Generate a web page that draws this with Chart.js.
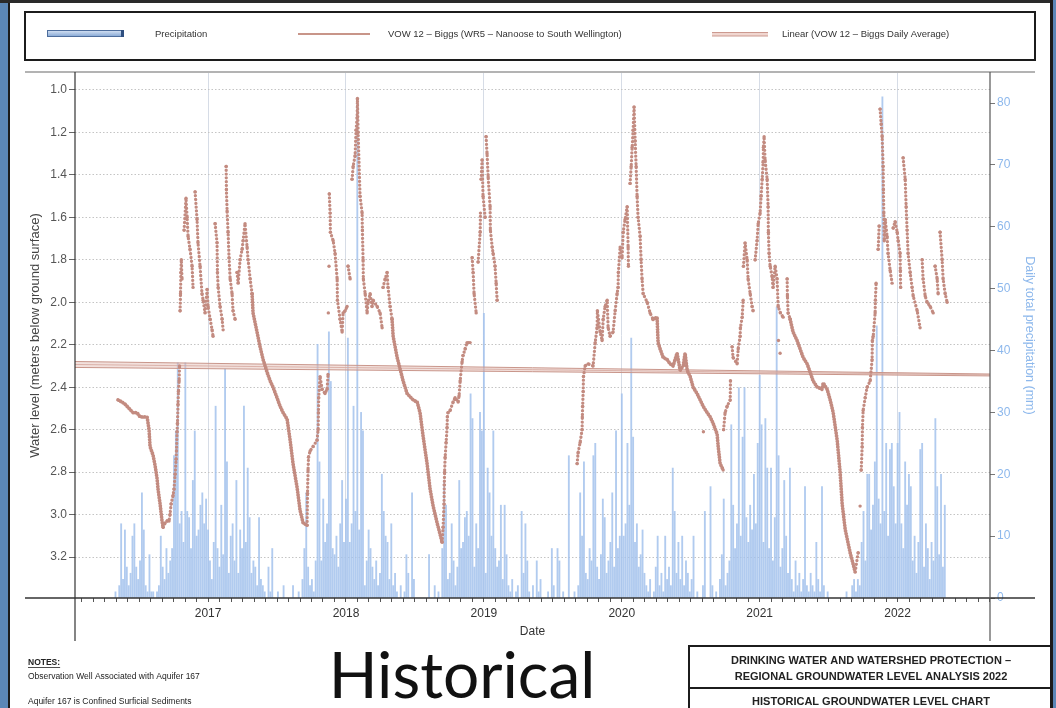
<!DOCTYPE html>
<html>
<head>
<meta charset="utf-8">
<script src="https://cdn.jsdelivr.net/npm/chart.js@4.4.1/dist/chart.umd.min.js"></script>
<style>
  html, body { margin: 0; padding: 0; background: #fff; }
  #wrap { position: relative; width: 1056px; height: 708px; overflow: hidden; }
  canvas { position: absolute; left: 0; top: 0; }
</style>
</head>
<body>
<div id="wrap"><canvas id="chart" width="1056" height="708"></canvas></div>
<script>
// axis ticks
const yearTicks = [2017, 2018, 2019, 2020, 2021, 2022];
const levelTicks = [1.0, 1.2, 1.4, 1.6, 1.8, 2.0, 2.2, 2.4, 2.6, 2.8, 3.0, 3.2];
const precipTicks = [0, 10, 20, 30, 40, 50, 60, 70, 80];

// linear trend (three thin strokes converging to the right)
const trendYears = [2016.035, 2022.67];
const trendUpper = [2.279, 2.338];
const trendMiddle = [2.293, 2.342];
const trendLower = [2.307, 2.347];

// daily precipitation, one value every 5 days from 1 Jan of each year (mm)
const precip2016 = [0,0,0,0,0,0,0,0,0,0,0,0,0,0,0,0,0,0,0,0,0,0,0,0,
  1,0,2,12,3,11,5,2,4,10,12,5,3,6,17,11,2,1,7,1,1,0,1,2,10,5,3,8,4,6,8,23,27,38,12,14,9,38,14,13,8,19,27,10,11,15,17,12,16];
const precip2017 = [11,6,3,9,31,8,5,15,7,37,22,4,10,12,6,19,4,11,8,31,9,21,13,4,6,5,2,13,3,2,
  1,0,5,1,8,0,0,1,0,0,2,0,0,0,0,2,0,0,1,0,3,8,17,5,2,3,1,6,41,22,6,16,9,12,43,35,8,7,10,5,12,19,9];
const precip2018 = [16,42,9,12,31,14,80,11,30,27,2,6,11,8,5,3,6,2,4,20,14,10,9,3,12,2,4,1,0,2,
  0,1,7,4,0,17,3,0,0,0,0,0,0,0,7,0,0,2,0,1,0,8,19,15,3,4,12,6,2,5,19,8,9,13,14,10,33,29,5,12,8,30,27];
const precip2019 = [46,4,21,17,10,27,8,5,6,15,3,15,7,2,1,3,0,1,2,0,14,4,12,6,1,0,2,0,6,1,
  3,0,0,0,1,0,8,2,0,8,6,0,1,0,0,23,0,0,1,0,2,17,10,22,4,3,8,6,23,25,5,3,7,16,13,4,6,9,17,5,27,8,10];
const precip2020 = [33,10,12,25,15,42,26,9,12,5,7,11,4,2,1,3,0,1,5,10,2,4,1,10,3,5,2,21,14,4,
  9,3,10,2,6,4,1,3,10,0,1,0,0,2,14,0,0,18,2,0,1,0,3,7,16,2,4,6,28,15,8,12,34,10,26,34,13,9,15,11,20,12,25];
const precip2021 = [36,28,9,29,21,8,21,6,13,47,23,5,8,19,10,4,21,3,1,6,2,4,1,3,18,2,1,4,2,1,
  9,3,1,18,2,0,1,0,0,0,0,0,0,0,0,0,1,0,0,2,3,1,3,2,9,14,6,20,20,11,15,22,44,16,12,81,14,25,10,24,25,18,12];
const precip2022 = [25,30,12,8,22,15,20,18,6,10,4,9,24,25,5,12,8,3,9,6,29,18,7,20,5,15];

// water level [decimal year, metres below ground]
const levelDecline2016 = [[2016.347,2.46],[2016.376,2.47],[2016.398,2.48],[2016.427,2.50],[2016.456,2.52],[2016.485,2.52],
  [2016.507,2.54],[2016.536,2.54],[2016.558,2.54],[2016.572,2.60],[2016.579,2.68],[2016.601,2.72],[2016.616,2.77],
  [2016.630,2.83],[2016.637,2.88],[2016.652,2.95],[2016.666,3.03],[2016.674,3.06]];
const levelWinter2016 = [[2016.674,3.06],[2016.688,3.04],[2016.703,3.03],[2016.717,3.03],[2016.724,3.00],[2016.732,2.95],
  [2016.746,2.91],[2016.753,2.88],[2016.761,2.81],[2016.768,2.74],[2016.771,2.70],[2016.775,2.61],[2016.778,2.57],
  [2016.782,2.48],[2016.785,2.42],[2016.790,2.37],[2016.793,2.30],[2016.797,2.04],[2016.800,1.96],[2016.803,1.86],
  [2016.806,1.80],[2016.811,1.89],[2016.826,1.66],[2016.840,1.51],[2016.848,1.60],[2016.855,1.69],[2016.869,1.75],
  [2016.884,1.83],[2016.891,1.93],[2016.906,1.48],[2016.920,1.61],[2016.927,1.72],[2016.942,1.83],[2016.956,1.96],
  [2016.964,1.99],[2016.978,2.05],[2016.993,1.94],[2017.000,2.02],[2017.015,2.08],[2017.029,2.13],[2017.036,2.16],
  [2017.051,1.63],[2017.065,1.72],[2017.068,1.86],[2017.073,1.93],[2017.087,2.02],[2017.102,2.08],[2017.109,2.13],
  [2017.131,1.36],[2017.133,1.47],[2017.138,1.57],[2017.145,1.67],[2017.152,1.79],[2017.160,1.89],[2017.174,1.96],
  [2017.181,2.04],[2017.196,2.08],[2017.210,1.86],[2017.218,1.91],[2017.232,1.80],[2017.247,1.75],[2017.254,1.71],
  [2017.268,1.63],[2017.283,1.74],[2017.290,1.80],[2017.305,1.89],[2017.319,1.96]];
const levelDecline2017 = [[2017.319,1.96],[2017.326,2.05],[2017.355,2.14],[2017.377,2.21],[2017.399,2.27],[2017.428,2.33],
  [2017.450,2.37],[2017.471,2.40],[2017.500,2.45],[2017.522,2.49],[2017.544,2.52],[2017.573,2.55],[2017.595,2.65],
  [2017.616,2.76],[2017.645,2.87],[2017.667,2.98],[2017.689,3.04],[2017.718,3.05]];
const levelWinter2017 = [[2017.718,3.05],[2017.721,2.90],[2017.725,2.79],[2017.728,2.73],[2017.740,2.70],[2017.761,2.68],
  [2017.790,2.65],[2017.798,2.60],[2017.800,2.52],[2017.802,2.45],[2017.812,2.35],[2017.827,2.41],[2017.848,2.43],
  [2017.863,2.41],[2017.870,2.34],[2017.872,2.05],[2017.877,1.83],[2017.879,1.49],[2017.885,1.58],[2017.887,1.67],
  [2017.907,1.71],[2017.921,1.77],[2017.936,1.89],[2017.938,1.99],[2017.957,2.08],[2017.972,2.14],[2017.979,2.05],
  [2017.994,2.04],[2018.008,2.02],[2018.015,1.83],[2018.030,1.89],[2018.044,1.42],[2018.052,1.36],[2018.066,1.31],
  [2018.073,1.19],[2018.081,1.13],[2018.083,1.04],[2018.088,1.20],[2018.102,1.50],[2018.117,1.58],[2018.119,1.66],
  [2018.124,1.80],[2018.126,1.89],[2018.139,1.96],[2018.153,2.05],[2018.160,2.00],[2018.175,1.96],[2018.189,2.02],
  [2018.197,1.99],[2018.226,2.02],[2018.247,2.05],[2018.262,2.12],[2018.269,1.93],[2018.284,1.89],[2018.298,1.86],
  [2018.305,1.93],[2018.320,2.02],[2018.334,2.08]];
const levelDecline2018 = [[2018.334,2.08],[2018.342,2.16],[2018.371,2.26],[2018.414,2.37],[2018.443,2.43],[2018.487,2.46],
  [2018.516,2.47],[2018.537,2.52],[2018.559,2.63],[2018.588,2.76],[2018.610,2.88],[2018.632,2.96],[2018.661,3.04],
  [2018.697,3.13]];
const levelWinter2018 = [[2018.697,3.13],[2018.704,3.06],[2018.711,2.95],[2018.713,2.86],[2018.715,2.80],[2018.719,2.73],
  [2018.726,2.66],[2018.733,2.59],[2018.735,2.54],[2018.740,2.52],[2018.755,2.51],[2018.777,2.47],[2018.791,2.45],
  [2018.813,2.47],[2018.820,2.44],[2018.828,2.37],[2018.842,2.28],[2018.849,2.25],[2018.864,2.22],[2018.878,2.19],
  [2018.900,2.19],[2018.915,1.79],[2018.922,1.86],[2018.929,1.96],[2018.944,2.05],[2018.958,1.81],[2018.973,1.67],
  [2018.975,1.58],[2018.980,1.42],[2018.987,1.33],[2018.994,1.50],[2019.009,1.60],[2019.016,1.22],[2019.023,1.30],
  [2019.031,1.41],[2019.045,1.55],[2019.047,1.66],[2019.060,1.74],[2019.067,1.77],[2019.081,1.83],[2019.089,1.91],
  [2019.096,1.99]];
const levelWinter2019 = [[2019.676,2.76],[2019.683,2.71],[2019.698,2.66],[2019.712,2.60],[2019.714,2.54],[2019.716,2.49],
  [2019.720,2.42],[2019.722,2.35],[2019.734,2.30],[2019.756,2.29],[2019.792,2.30],[2019.807,2.19],[2019.821,2.12],
  [2019.823,2.04],[2019.843,2.14],[2019.857,2.18],[2019.865,2.08],[2019.879,2.02],[2019.894,1.99],[2019.901,2.12],
  [2019.915,2.16],[2019.937,2.14],[2019.952,2.04],[2019.966,1.96],[2019.973,1.93],[2019.975,1.86],[2019.988,1.74],
  [2020.002,1.79],[2020.010,1.67],[2020.024,1.61],[2020.039,1.55],[2020.046,1.74],[2020.048,1.83],[2020.060,1.44],
  [2020.068,1.36],[2020.075,1.27],[2020.082,1.19],[2020.089,1.08],[2020.097,1.24],[2020.104,1.36],[2020.111,1.50],
  [2020.118,1.60],[2020.133,1.69],[2020.140,1.80],[2020.147,1.89],[2020.155,1.96],[2020.184,2.00],[2020.205,2.05],
  [2020.227,2.08]];
const levelDecline2020 = [[2020.227,2.08],[2020.256,2.07],[2020.263,2.19],[2020.278,2.22],[2020.300,2.26],[2020.329,2.27],
  [2020.350,2.29],[2020.372,2.30],[2020.401,2.24],[2020.423,2.32],[2020.445,2.30],[2020.459,2.24],[2020.474,2.32],
  [2020.496,2.35],[2020.517,2.40],[2020.546,2.43],[2020.568,2.46],[2020.590,2.49],[2020.619,2.52],[2020.641,2.54],
  [2020.662,2.57],[2020.691,2.62],[2020.699,2.68],[2020.713,2.76],[2020.728,2.78],[2020.735,2.79]];
const levelWinter2020 = [[2020.735,2.79],[2020.738,2.60],[2020.749,2.52],[2020.764,2.49],[2020.786,2.46],[2020.788,2.37],
  [2020.800,2.21],[2020.807,2.26],[2020.836,2.29],[2020.844,2.22],[2020.858,2.16],[2020.860,2.12],[2020.873,2.07],
  [2020.880,1.99],[2020.882,1.83],[2020.894,1.72],[2020.909,1.80],[2020.916,1.89],[2020.931,1.96],[2020.945,2.02],
  [2020.952,2.04],[2020.967,1.80],[2020.981,1.71],[2020.989,1.63],[2021.003,1.58],[2021.010,1.50],[2021.018,1.42],
  [2021.025,1.34],[2021.027,1.27],[2021.032,1.22],[2021.039,1.33],[2021.054,1.42],[2021.061,1.55],[2021.063,1.67],
  [2021.068,1.77],[2021.076,1.83],[2021.090,1.88],[2021.097,1.93],[2021.112,1.83],[2021.126,1.89],[2021.134,2.02],
  [2021.150,2.05],[2021.170,2.07],[2021.199,1.89],[2021.201,1.97],[2021.206,2.05],[2021.221,2.08]];
const levelDecline2021 = [[2021.221,2.08],[2021.242,2.14],[2021.271,2.18],[2021.293,2.22],[2021.315,2.26],[2021.344,2.29],
  [2021.366,2.33],[2021.387,2.37],[2021.417,2.40],[2021.453,2.41],[2021.460,2.38],[2021.489,2.41],[2021.511,2.46],
  [2021.533,2.52],[2021.562,2.65],[2021.583,2.80],[2021.598,2.95],[2021.620,3.07],[2021.656,3.18],[2021.692,3.27]];
const levelWinter2021 = [[2021.692,3.27],[2021.714,3.18],[2021.728,2.96],[2021.736,2.79],[2021.743,2.68],[2021.745,2.59],
  [2021.750,2.51],[2021.765,2.45],[2021.779,2.40],[2021.801,2.37],[2021.815,2.27],[2021.817,2.18],[2021.823,2.16],
  [2021.837,2.05],[2021.839,1.99],[2021.844,1.91],[2021.859,1.75],[2021.866,1.64],[2021.873,1.09],[2021.881,1.16],
  [2021.888,1.22],[2021.895,1.36],[2021.897,1.47],[2021.900,1.58],[2021.903,1.71],[2021.910,1.61],[2021.924,1.69],
  [2021.931,1.77],[2021.946,1.85],[2021.960,1.91],[2021.968,1.65],[2021.982,1.62],[2021.997,1.67],[2022.004,1.71],
  [2022.018,1.77],[2022.020,1.85],[2022.022,1.93],[2022.040,1.32],[2022.055,1.42],[2022.062,1.55],[2022.069,1.66],
  [2022.076,1.77],[2022.091,1.86],[2022.105,1.93],[2022.113,1.97],[2022.142,2.04],[2022.163,2.12],[2022.178,1.80],
  [2022.185,1.89],[2022.200,1.97],[2022.214,2.00],[2022.236,2.02],[2022.258,2.05],[2022.272,1.83],[2022.287,1.89],
  [2022.294,1.96],[2022.308,1.67],[2022.323,1.80],[2022.330,1.89],[2022.345,1.96],[2022.359,2.00]];
const levelOutliers = [[2020.592,2.61],[2021.136,2.18],[2021.148,2.24]];

const DOT = '#c38b80';
const BAR = 'rgba(163,194,236,0.85)';
const FONT = '"Liberation Sans", Arial, sans-serif';

Chart.defaults.font.family = FONT;

function precipPoints(year, values) {
  return values.map((v, i) => ({ x: year + i * 5 / 365.25, y: v })).filter(p => p.y > 0);
}
const toXY = arr => arr.map(([x, y]) => ({ x, y }));

const precipData = [].concat(
  precipPoints(2016, precip2016), precipPoints(2017, precip2017), precipPoints(2018, precip2018),
  precipPoints(2019, precip2019), precipPoints(2020, precip2020), precipPoints(2021, precip2021),
  precipPoints(2022, precip2022));

// rising jumps after rain show as gaps, not chains of dots
const hideJump = c => (c.p0.parsed.y - c.p1.parsed.y > 0.15 ? 'rgba(0,0,0,0)' : undefined);

function declineSet(arr) {
  return { type: 'line', data: toXY(arr), yAxisID: 'y', borderColor: DOT, borderWidth: 3.8,
    borderDash: [0.01, 2.8], borderCapStyle: 'round', borderJoinStyle: 'round', pointRadius: 0, tension: 0, order: 1 };
}
function winterSet(arr) {
  return { type: 'line', data: toXY(arr), yAxisID: 'y', borderColor: DOT, borderWidth: 3.3,
    borderDash: [0.01, 3.8], borderCapStyle: 'round', pointRadius: 1.7, pointBackgroundColor: DOT,
    pointBorderWidth: 0, tension: 0, order: 1, segment: { borderColor: hideJump } };
}
function trendSet(vals, extra) {
  return Object.assign({ type: 'line', data: trendYears.map((x, i) => ({ x, y: vals[i] })), yAxisID: 'y',
    borderColor: '#c9968b', borderWidth: 1, pointRadius: 0, order: 2 }, extra || {});
}

const monthTicks = [];
for (let y = 2016; y <= 2022; y++) {
  for (let m = 0; m < 12; m++) {
    const v = y + m / 12;
    if (v >= trendYears[0] && v <= trendYears[1]) monthTicks.push(v);
  }
}
const isYear = v => Math.abs(v - Math.round(v)) < 1e-6;

const line = (ctx, x1, y1, x2, y2) => { ctx.beginPath(); ctx.moveTo(x1, y1); ctx.lineTo(x2, y2); ctx.stroke(); };

const pageDecor = {
  id: 'pageDecor',
  afterDraw(chart) {
    const { ctx, chartArea: a } = chart;
    ctx.save();
    // frame around the plot
    ctx.strokeStyle = '#9a9a9a'; ctx.lineWidth = 1.5;
    line(ctx, 25, 72, 1035, 72);
    ctx.strokeStyle = '#333'; ctx.lineWidth = 1.5;
    line(ctx, 25, a.bottom, 1035, a.bottom);
    ctx.lineWidth = 1.2;
    line(ctx, a.left, 72, a.left, 641);
    ctx.strokeStyle = '#555';
    line(ctx, a.right, 72, a.right, 641);

    // legend box
    ctx.strokeStyle = '#1c1c1c'; ctx.lineWidth = 2;
    ctx.strokeRect(25, 12, 1010, 48);
    const g = ctx.createLinearGradient(0, 30, 0, 37);
    g.addColorStop(0, '#dce7f6'); g.addColorStop(1, '#7ea2d2');
    ctx.fillStyle = g; ctx.fillRect(47, 30.5, 76, 6);
    ctx.strokeStyle = '#4d6d9c'; ctx.lineWidth = 1; ctx.strokeRect(47.5, 30.5, 75, 6);
    ctx.fillStyle = '#2f4f80'; ctx.fillRect(121, 30, 3, 7);
    ctx.fillStyle = '#c89589'; ctx.fillRect(298, 33, 72, 2);
    ctx.fillStyle = '#f0d6d0'; ctx.fillRect(712, 32, 56, 4);
    ctx.fillStyle = '#cc998f'; ctx.fillRect(712, 32, 56, 1); ctx.fillRect(712, 35.5, 56, 1);
    ctx.fillStyle = '#333'; ctx.textBaseline = 'middle'; ctx.textAlign = 'left';
    ctx.font = '9.5px ' + FONT;
    ctx.fillText('Precipitation', 155, 34);
    ctx.fillText('VOW 12 \u2013 Biggs (WR5 \u2013 Nanoose to South Wellington)', 388, 34);
    ctx.fillText('Linear (VOW 12 \u2013 Biggs Daily Average)', 782, 34);

    // notes
    ctx.fillStyle = '#222';
    ctx.font = 'bold 8.5px ' + FONT;
    ctx.fillText('NOTES:', 28, 663);
    const nw = ctx.measureText('NOTES:').width;
    ctx.fillRect(28, 667, nw, 0.8);
    ctx.font = '8.5px ' + FONT;
    ctx.fillText('Observation Well Associated with Aquifer 167', 28, 677);
    ctx.fillText('Aquifer 167 is Confined Surficial Sediments', 28, 702);

    // big caption
    ctx.fillStyle = '#111'; ctx.textAlign = 'center'; ctx.textBaseline = 'alphabetic';
    ctx.font = '64px Lato, "Open Sans", sans-serif';
    ctx.fillText('Historical', 462, 698);

    // title block
    ctx.strokeStyle = '#1c1c1c'; ctx.lineWidth = 2;
    ctx.strokeRect(689, 646, 380, 90);
    line(ctx, 689, 688, 1050, 688);
    ctx.fillStyle = '#222'; ctx.textBaseline = 'middle';
    ctx.font = 'bold 11px ' + FONT;
    ctx.fillText('DRINKING WATER AND WATERSHED PROTECTION \u2013', 871, 661);
    ctx.fillText('REGIONAL GROUNDWATER LEVEL ANALYSIS 2022', 871, 677);
    ctx.fillText('HISTORICAL GROUNDWATER LEVEL CHART', 871, 702);

    // page edges
    ctx.fillStyle = '#5b87b7'; ctx.fillRect(0, 0, 8, 708);
    ctx.fillStyle = '#1b1b1b'; ctx.fillRect(8, 0, 2, 708);
    ctx.fillStyle = '#2a2a2a'; ctx.fillRect(0, 0, 1056, 3);
    ctx.fillStyle = '#1b1b1b'; ctx.fillRect(1050, 0, 3, 708);
    ctx.fillStyle = '#5b87b7'; ctx.fillRect(1053, 0, 3, 708);
    ctx.restore();
  }
};

new Chart(document.getElementById('chart'), {
  type: 'scatter',
  data: {
    datasets: [
      { type: 'bar', label: 'Precipitation', data: precipData, xAxisID: 'x', yAxisID: 'y2',
        backgroundColor: BAR, barThickness: 1.2, grouped: false, order: 5 },
      trendSet(trendUpper),
      trendSet(trendLower, { fill: '-1', backgroundColor: 'rgba(226,186,178,0.45)' }),
      trendSet(trendMiddle, { borderWidth: 0.8 }),
      declineSet(levelDecline2016), winterSet(levelWinter2016),
      declineSet(levelDecline2017), winterSet(levelWinter2017),
      declineSet(levelDecline2018), winterSet(levelWinter2018),
      winterSet(levelWinter2019),
      declineSet(levelDecline2020), winterSet(levelWinter2020),
      declineSet(levelDecline2021), winterSet(levelWinter2021),
      { type: 'scatter', data: toXY(levelOutliers), yAxisID: 'y', pointRadius: 1.7,
        pointBackgroundColor: DOT, pointBorderWidth: 0, order: 1 }
    ]
  },
  options: {
    responsive: false,
    animation: false,
    events: [],
    layout: { padding: { left: 24, right: 15, top: 73, bottom: 65 } },
    plugins: { legend: { display: false }, tooltip: { enabled: false } },
    scales: {
      x: {
        type: 'linear', position: 'bottom', min: trendYears[0], max: trendYears[1], offset: false,
        afterBuildTicks: s => { s.ticks = monthTicks.map(v => ({ value: v })); },
        afterFit: s => { s.height = 45; },
        ticks: { autoSkip: false, maxRotation: 0, color: '#333', font: { size: 12 }, padding: 4,
          callback: v => (isYear(v) && yearTicks.includes(Math.round(v)) ? String(Math.round(v)) : '') },
        grid: { offset: false, color: c => (c.tick && isYear(c.tick.value) ? '#d6dce6' : 'rgba(0,0,0,0)'),
          tickColor: '#555', tickLength: 4 },
        border: { display: false },
        title: { display: true, text: 'Date', color: '#333', font: { size: 12 } }
      },
      y: {
        position: 'left', reverse: true, min: 0.92, max: 3.393,
        afterBuildTicks: s => { s.ticks = levelTicks.map(v => ({ value: v })); },
        afterFit: s => { s.width = 51; },
        ticks: { color: '#555', font: { size: 12 }, padding: 2, callback: v => v.toFixed(1) },
        grid: { color: '#c4c4c4', tickColor: '#666', tickLength: 6 },
        border: { display: false, dash: [1.5, 2] },
        title: { display: true, text: 'Water level (meters below ground surface)', color: '#444', font: { size: 13 } }
      },
      y2: {
        position: 'right', min: 0, max: 84.85,
        afterBuildTicks: s => { s.ticks = precipTicks.map(v => ({ value: v })); },
        afterFit: s => { s.width = 51; },
        ticks: { color: '#8db8ec', font: { size: 12 }, padding: 2 },
        grid: { drawOnChartArea: false, tickColor: '#777', tickLength: 5 },
        border: { display: false },
        title: { display: true, text: 'Daily total precipitation (mm)', color: '#8db8ec', font: { size: 12.5 } }
      }
    }
  },
  plugins: [pageDecor]
});
</script>
</body>
</html>
